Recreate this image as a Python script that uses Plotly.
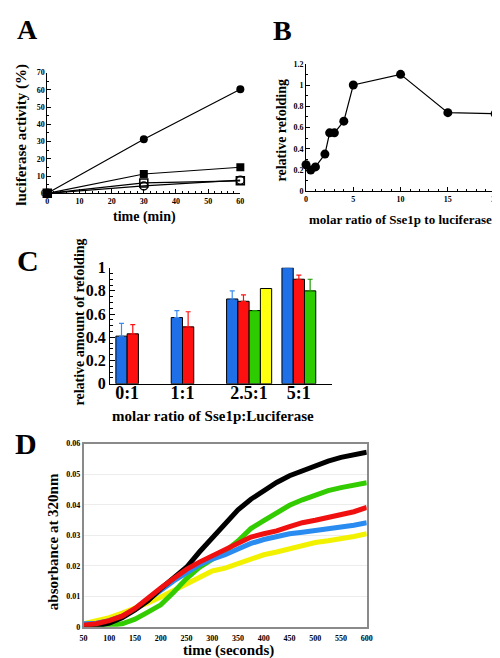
import plotly.graph_objects as go

# ---------------- Panel A data ----------------
a_time = [0, 30, 60]
a_filled_circle = [0, 31.3, 60.3]
a_filled_square = [0, 11.2, 15.1]
a_open_square = [0, 6.0, 7.2]
a_open_circle = [0, 4.3, 7.6]

# ---------------- Panel B data ----------------
b_ratio = [0, 0.5, 1, 2, 2.5, 3, 4, 5, 10, 15, 20]
b_refolding = [0.25, 0.2, 0.23, 0.35, 0.55, 0.55, 0.66, 1.0, 1.1, 0.74, 0.73]

# ---------------- Panel C data ----------------
c_categories = ["0:1", "1:1", "2.5:1", "5:1"]
c_blue = [0.41, 0.57, 0.73, 1.0]
c_blue_err = [0.11, 0.06, 0.07, 0.0]
c_red = [0.43, 0.49, 0.71, 0.90]
c_red_err = [0.08, 0.13, 0.055, 0.035]
c_green = [None, None, 0.63, 0.80]
c_green_err = [0, 0, 0, 0.10]
c_yellow = [None, None, 0.82, None]

# ---------------- Panel D data ----------------
d_time = [50, 75, 100, 125, 150, 175, 200, 225, 250, 275, 300, 325,
          350, 375, 400, 425, 450, 475, 500, 525, 550, 575, 600]
d_black = [0.0, 0.0003, 0.0012, 0.003, 0.0055, 0.0085, 0.0125, 0.0158, 0.0195, 0.0245,
           0.0292, 0.0338, 0.0383, 0.0418, 0.0446, 0.0473, 0.0495, 0.0512, 0.0528,
           0.0543, 0.0555, 0.0564, 0.0572]
d_green = [0.0, 0.0, 0.0004, 0.001, 0.0025, 0.0048, 0.0072, 0.0113, 0.0158, 0.0195,
           0.0222, 0.0248, 0.0281, 0.0322, 0.0348, 0.0375, 0.0398, 0.0416, 0.0431,
           0.0446, 0.0456, 0.0466, 0.0472]
d_red = [0.0005, 0.001, 0.002, 0.0035, 0.006, 0.0095, 0.0127, 0.0158, 0.0188, 0.0212,
         0.0232, 0.0252, 0.0276, 0.0294, 0.0305, 0.0314, 0.0328, 0.0341, 0.0349,
         0.0358, 0.0367, 0.0377, 0.0391]
d_blue = [0.001, 0.0012, 0.002, 0.0035, 0.0058, 0.009, 0.012, 0.015, 0.0177, 0.0203,
          0.0222, 0.0236, 0.0255, 0.0273, 0.0286, 0.0297, 0.0305, 0.031, 0.0317,
          0.0323, 0.0327, 0.0333, 0.0341]
d_yellow = [0.001, 0.0018, 0.003, 0.0045, 0.006, 0.0078, 0.0098, 0.012, 0.0142, 0.0163,
            0.0183, 0.0192, 0.0207, 0.0224, 0.0236, 0.0245, 0.0256, 0.0265, 0.0276,
            0.0282, 0.0288, 0.0296, 0.0305]
d_yticks = [0, 0.01, 0.02, 0.03, 0.04, 0.05, 0.06]
d_yticklabels = ["0", "0.01", "0.02", "0.03", "0.04", "0.05", "0.06"]

W, H = 500, 658
SERIF = "Liberation Serif"
BLUE = "#1e6fe8"
RED = "#ff1010"
GREEN = "#2ccc00"
YELLOW = "#ffff10"


def xd(p0, p1):
    return [p0 / W, p1 / W]


def yd(top, bottom):
    return [1 - bottom / H, 1 - top / H]


fig = go.Figure()

# ---- Panel A traces ----
line_a = dict(color="black", width=1.2)
fig.add_trace(go.Scatter(x=a_time, y=a_open_circle, mode="lines+markers", line=line_a,
                         marker=dict(symbol="circle-open", size=8, color="black", line=dict(width=1.5)),
                         xaxis="x", yaxis="y", cliponaxis=False))
fig.add_trace(go.Scatter(x=a_time, y=a_open_square, mode="lines+markers", line=line_a,
                         marker=dict(symbol="square-open", size=8, color="black", line=dict(width=1.5)),
                         xaxis="x", yaxis="y", cliponaxis=False))
fig.add_trace(go.Scatter(x=a_time, y=a_filled_square, mode="lines+markers", line=line_a,
                         marker=dict(symbol="square", size=8, color="black"),
                         xaxis="x", yaxis="y", cliponaxis=False))
fig.add_trace(go.Scatter(x=a_time, y=a_filled_circle, mode="lines+markers", line=line_a,
                         marker=dict(symbol="circle", size=8, color="black"),
                         xaxis="x", yaxis="y", cliponaxis=False))

# ---- Panel B trace ----
fig.add_trace(go.Scatter(x=b_ratio, y=b_refolding, mode="lines+markers",
                         line=dict(color="black", width=1.2),
                         marker=dict(symbol="circle", size=9, color="black"),
                         xaxis="x2", yaxis="y2", cliponaxis=False))

# ---- Panel C traces ----
c_x = list(range(len(c_categories)))
bargap = 0.186
slot = (1 - bargap) / 4


def bar(vals, errs, color, ecolor):
    e = None
    if errs is not None:
        e = dict(type="data", array=errs, arrayminus=[0] * len(errs), symmetric=False,
                 color=ecolor, thickness=1.2, width=2.5)
    return go.Bar(x=c_x, y=vals, marker=dict(color=color, line=dict(color="black", width=1)),
                  error_y=e, xaxis="x3", yaxis="y3")


fig.add_trace(bar(c_blue, c_blue_err, BLUE, "#3a8cf0"))
fig.add_trace(bar(c_red, c_red_err, RED, RED))
fig.add_trace(bar(c_green, c_green_err, GREEN, "#1a9a00"))
fig.add_trace(bar(c_yellow, None, YELLOW, YELLOW))

# tick label positions: centred on the bars present in each group
series_c = [c_blue, c_red, c_green, c_yellow]
c_tickvals = []
for i in c_x:
    n = sum(1 for s in series_c if s[i] is not None)
    c_tickvals.append(i + (-2 + n / 2) * slot)

# ---- Panel D traces ----
for vals, col in [(d_yellow, "#f2f200"), (d_green, "#33cc00"), (d_blue, "#2a8cf0"),
                  (d_black, "#000000"), (d_red, "#f01010")]:
    fig.add_trace(go.Scatter(x=d_time, y=vals, mode="lines",
                             line=dict(color=col, width=5),
                             xaxis="x4", yaxis="y4"))

tickfont_small = dict(family=SERIF, size=8, color="black", weight="bold")

fig.update_layout(
    width=W, height=H,
    margin=dict(l=0, r=0, t=0, b=0),
    paper_bgcolor="white", plot_bgcolor="white",
    showlegend=False,
    barmode="group", bargap=bargap, bargroupgap=0,
    # Panel A
    xaxis=dict(domain=xd(36, 233), range=[0, 60], anchor="y", showline=True, linecolor="black",
               linewidth=1, ticks="inside", ticklen=4, tickcolor="black", dtick=10,
               minor=dict(ticks="inside", dtick=2, ticklen=2, tickcolor="black"),
               showgrid=False, zeroline=False, tickfont=tickfont_small),
    yaxis=dict(domain=yd(58, 182), range=[0, 70], anchor="x", showline=True, linecolor="black",
               linewidth=1, ticks="inside", ticklen=4, tickcolor="black", dtick=10,
               minor=dict(ticks="inside", dtick=5, ticklen=2, tickcolor="black"),
               showgrid=False, zeroline=False, tickfont=tickfont_small),
    # Panel B
    xaxis2=dict(domain=xd(300, 493), range=[0, 20], anchor="y2", showline=True, linecolor="black",
                linewidth=1, ticks="inside", ticklen=4, tickcolor="black", dtick=5,
                minor=dict(ticks="inside", dtick=1, ticklen=2, tickcolor="black"),
                showgrid=False, zeroline=False, tickfont=tickfont_small),
    yaxis2=dict(domain=yd(49, 180), range=[0, 1.2], anchor="x2", showline=True, linecolor="black",
                linewidth=1, ticks="inside", ticklen=4, tickcolor="black", dtick=0.2,
                minor=dict(ticks="inside", dtick=0.1, ticklen=2, tickcolor="black"),
                showgrid=False, zeroline=False, tickfont=tickfont_small),
    # Panel C
    xaxis3=dict(domain=xd(100, 326.7), range=[-0.513, 3.5], anchor="y3", showline=True,
                linecolor="black", linewidth=1.2, ticks="", tickmode="array",
                tickvals=c_tickvals, ticktext=c_categories, showgrid=False, zeroline=False,
                ticklabelstandoff=-7,
                tickfont=dict(family=SERIF, size=18, color="black", weight="bold")),
    yaxis3=dict(domain=yd(258.3, 377.5), range=[0, 1.0], anchor="x3", showline=True,
                linecolor="black", linewidth=1.2, ticks="inside", ticklen=5, tickcolor="black",
                dtick=0.2, minor=dict(ticks="inside", dtick=0.05, ticklen=3, tickcolor="black"),
                showgrid=False, zeroline=False,
                tickfont=dict(family=SERIF, size=16, color="black", weight="bold")),
    # Panel D
    xaxis4=dict(domain=xd(73, 362), range=[50, 600], anchor="y4", showline=True, mirror=True,
                linecolor="#8a8a8a", linewidth=1.5, ticks="", dtick=50, showgrid=False,
                zeroline=False, tickfont=tickfont_small, ticklabelstandoff=3),
    yaxis4=dict(domain=yd(439, 627), range=[0, 0.06], anchor="x4", showline=True, mirror=True,
                linecolor="#8a8a8a", linewidth=1.5, ticks="", tickmode="array",
                tickvals=d_yticks, ticktext=d_yticklabels, showgrid=True,
                gridcolor="#ececec", gridwidth=1, zeroline=False,
                tickfont=tickfont_small),
)


def ann(text, x, y, size, angle=0):
    return dict(text=text, x=x / W, y=1 - y / H, xref="paper", yref="paper",
                showarrow=False, textangle=angle, xanchor="center", yanchor="middle",
                font=dict(family=SERIF, size=size, color="black", weight="bold"))


annotations = [
    ann("A", 16, 14, 28),
    ann("B", 276, 15, 28),
    ann("C", 16, 251, 30),
    ann("D", 14, 439, 30),
    ann("luciferase activity (%)", 10, 122, 15, -90),
    ann("time (min)", 135, 206, 14),
    ann("relative refolding", 275, 117, 14, -90),
    ann("molar ratio of Sse1p to luciferase", 396, 209, 13),
    ann("relative amount of refolding", 69, 314, 14, -90),
    ann("molar ratio of Sse1p:Luciferase", 205, 411, 15),
    ann("absorbance at 320nm", 42, 540, 15, -90),
    ann("time (seconds)", 221, 651, 15),
]
fig.update_layout(annotations=annotations)

fig.write_html("out.html")
